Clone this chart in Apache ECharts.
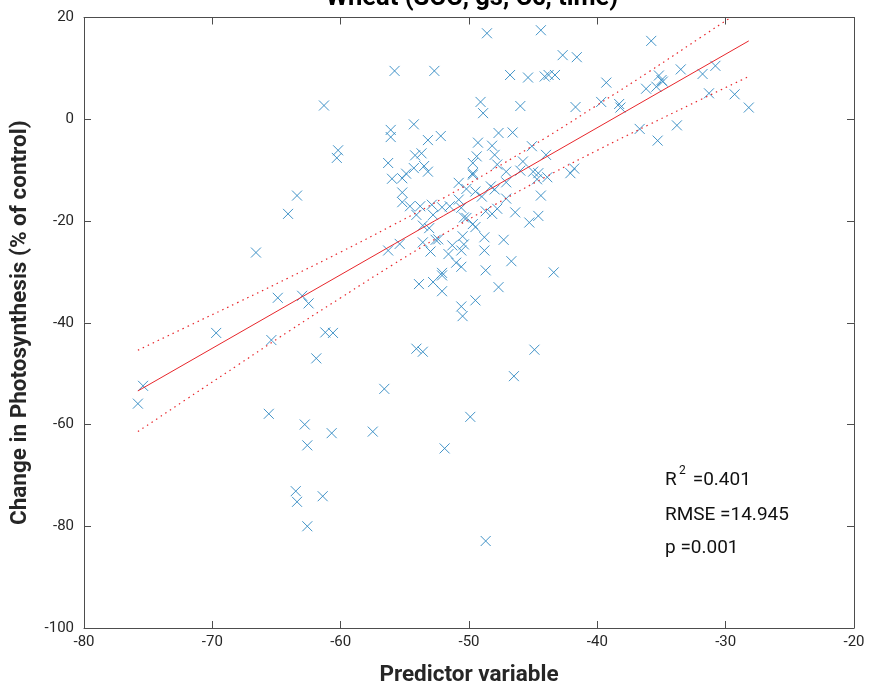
<!DOCTYPE html>
<html>
<head>
<meta charset="utf-8">
<script src="https://cdn.jsdelivr.net/npm/echarts@6/dist/echarts.min.js"></script>
<style>
html,body{margin:0;padding:0;background:#fff;}
#c{width:870px;height:692px;}
</style>
</head>
<body>
<div id="c"></div>
<script>
// ---- data ----
const xTicks = [-80, -70, -60, -50, -40, -30, -20];
const yTicks = [-100, -80, -60, -40, -20, 0, 20];

const pointsX = [
-75.8,-75.4,-69.7,-66.6,-65.4,-61.2,-60.6,-61.9,-65.6,-62.8,-60.7,-57.5,-62.6,-63.5,-63.4,-61.4,-62.6,
-55.8,-52.7,-61.3,-54.3,-56.1,-56.1,-53.2,-52.2,-60.2,-60.3,-56.3,-54.2,-53.7,-54.3,-53.5,-53.2,-56.0,-55.2,-54.9,
-50.8,-50.2,-63.4,-64.1,-55.2,-55.2,-54.6,-53.8,-52.9,-52.1,-51.5,-54.1,-52.8,-50.8,-50.6,-50.4,-50.2,-53.6,-53.1,
-56.3,-55.4,-53.6,-52.6,-52.4,-53.0,-51.3,-50.6,-51.6,-51.0,-50.6,-52.1,-52.1,-53.9,-52.8,-52.1,-64.9,-63.0,-62.5,
-50.6,-50.5,-50.5,-50.4,
-48.6,-44.4,-35.8,-42.7,-41.6,-46.8,-45.4,-44.1,-43.8,-43.3,-39.3,-49.1,-48.9,-46.0,-41.7,-39.7,-38.3,-38.2,-36.2,
-35.3,-36.7,-47.7,-46.6,-49.3,-48.2,-45.1,-49.4,-49.7,-48.0,-47.8,-49.7,-49.7,-45.8,-44.0,-47.1,-46.0,-45.0,-44.6,
-44.7,-43.9,-42.1,-41.8,-48.3,-48.0,-47.1,-49.5,-49.0,-47.1,-44.4,-48.7,-48.2,-47.8,-46.4,-45.3,-44.6,-49.7,-49.5,
-48.8,-48.8,-47.3,-46.7,-48.7,-43.4,-47.7,-49.5,
-33.5,-31.8,-30.8,-35.2,-35.0,-35.4,-34.9,-31.3,-29.3,-28.2,-33.8,
-54.1,-53.6,-44.9,-56.6,-46.5,-49.9,-51.9,-48.7
];
const pointsY = [
-55.9,-52.4,-42.0,-26.2,-43.4,-41.9,-42.0,-47.0,-57.9,-60.0,-61.7,-61.4,-64.1,-73.1,-75.2,-74.1,-80.0,
9.5,9.5,2.7,-1.0,-2.1,-3.5,-4.1,-3.3,-6.1,-7.6,-8.6,-7.1,-6.7,-9.6,-9.2,-10.3,-11.7,-11.6,-10.7,
-12.5,-13.7,-15.0,-18.6,-14.4,-16.3,-17.1,-17.1,-16.8,-17.3,-17.1,-18.8,-18.8,-15.8,-17.4,-19.3,-19.4,-20.9,-21.4,
-25.8,-24.5,-24.2,-23.7,-23.6,-26.0,-24.8,-25.8,-26.5,-28.2,-29.0,-30.2,-30.7,-32.4,-32.0,-33.8,-35.1,-34.7,-36.2,
-36.8,-38.7,-23.0,-24.6,
16.9,17.5,15.4,12.6,12.2,8.7,8.2,8.4,8.7,8.7,7.2,3.4,1.2,2.6,2.4,3.4,3.0,2.3,6.0,
-4.2,-1.9,-2.7,-2.6,-4.6,-5.2,-5.3,-7.3,-8.6,-7.0,-8.9,-10.6,-10.9,-8.3,-7.0,-10.3,-10.1,-10.3,-10.6,
-11.8,-11.4,-10.6,-9.7,-13.2,-13.8,-12.4,-14.2,-15.2,-15.6,-15.0,-18.1,-18.6,-17.6,-18.3,-20.3,-19.0,-20.6,-21.2,
-23.2,-25.8,-23.7,-27.9,-29.7,-30.1,-33.0,-35.6,
9.8,8.9,10.5,8.6,7.7,6.4,7.4,5.1,4.9,2.3,-1.2,
-45.1,-45.7,-45.3,-53.0,-50.5,-58.5,-64.7,-82.9
];

const fitX = [-75.8, -28.2];
const fitY = [-53.4, 15.4];

const bandX     = [-75.8, -72, -68, -64, -60, -56, -52, -48, -44, -40, -36, -32, -28.2];
const bandUpper = [-45.4, -40.8, -36.0, -31.1, -26.1, -20.9, -15.5, -9.7, -3.6, 2.8, 9.3, 16.0, 22.4];
const bandLower = [-61.4, -55.0, -48.3, -41.6, -35.1, -28.7, -22.6, -16.8, -11.3, -6.1, -1.1, 3.8, 8.4];

const titleText = 'Wheat (SCC, gs, Cc, time)';
const xName = 'Predictor variable';
const yName = 'Change in Photosynthesis (% of control)';
const statR2 = '0.401';
const statRMSE = '14.945';
const statP = '0.001';

// ---- build ----
const zip = (a, b) => a.map((v, i) => [v, b[i]]);
const axisColor = '#4d4d4d';
const labelColor = '#262626';
const font = 'Roboto, "Noto Sans", sans-serif';

function mkX(pos, show) {
  return {
    type: 'value', min: xTicks[0], max: xTicks[xTicks.length - 1], interval: 10, position: pos,
    axisLine: { show: true, onZero: false, lineStyle: { color: axisColor, width: 1 } },
    axisTick: { show: true, inside: true, length: 7, lineStyle: { color: axisColor } },
    axisLabel: { show: show, color: labelColor, fontSize: 15, fontFamily: font, margin: 7 },
    splitLine: { show: false },
    name: show ? xName : '', nameLocation: 'middle', nameGap: 36,
    nameTextStyle: { color: labelColor, fontSize: 22.5, fontWeight: 'bold', fontFamily: font }
  };
}
function mkY(pos, show) {
  return {
    type: 'value', min: yTicks[0], max: yTicks[yTicks.length - 1], interval: 20, position: pos,
    axisLine: { show: true, onZero: false, lineStyle: { color: axisColor, width: 1 } },
    axisTick: { show: true, inside: true, length: 7, lineStyle: { color: axisColor } },
    axisLabel: { show: show, color: labelColor, fontSize: 15, fontFamily: font, margin: 10 },
    splitLine: { show: false },
    name: show ? yName : '', nameLocation: 'middle', nameGap: 52, nameRotate: 90,
    nameTextStyle: { color: labelColor, fontSize: 22.5, fontWeight: 'bold', fontFamily: font }
  };
}

const chart = echarts.init(document.getElementById('c'), null, { renderer: 'canvas' });
const statStyle = { fill: '#111', fontSize: 19, fontFamily: font, verticalAlign: 'top' };
chart.setOption({
  backgroundColor: '#fff',
  animation: false,
  title: {
    text: titleText, left: 467, top: -19, textAlign: 'center',
    textStyle: { color: '#000', fontSize: 25.5, fontWeight: 'bold', fontFamily: font }
  },
  grid: { left: 84, right: 16, top: 17.5, bottom: 63, containLabel: false },
  xAxis: [mkX('bottom', true), mkX('top', false)],
  yAxis: [mkY('left', true), mkY('right', false)],
  series: [
    {
      type: 'scatter', data: zip(pointsX, pointsY),
      symbol: 'path://M0,0L10,10M10,0L0,10', symbolSize: 10,
      itemStyle: { color: 'rgba(0,0,0,0)', borderColor: '#2f88c2', borderWidth: 1, opacity: 0.9 },
      z: 3
    },
    {
      type: 'line', data: zip(fitX, fitY), showSymbol: false, symbol: 'none',
      lineStyle: { color: '#e8262b', width: 1 }, z: 4
    },
    {
      type: 'line', data: zip(bandX, bandUpper), showSymbol: false, symbol: 'none', smooth: true,
      lineStyle: { color: '#e8262b', width: 1.2, type: [1.5, 4] }, z: 4, clip: true
    },
    {
      type: 'line', data: zip(bandX, bandLower), showSymbol: false, symbol: 'none', smooth: true,
      lineStyle: { color: '#e8262b', width: 1.2, type: [1.5, 4] }, z: 4, clip: true
    }
  ],
  graphic: [
    { type: 'text', left: 665, top: 471, style: Object.assign({}, statStyle, { text: 'R' }) },
    { type: 'text', left: 679, top: 465, style: Object.assign({}, statStyle, { text: '2', fontSize: 12 }) },
    { type: 'text', left: 688, top: 471, style: Object.assign({}, statStyle, { text: ' =' + statR2 }) },
    { type: 'text', left: 665, top: 506, style: Object.assign({}, statStyle, { text: 'RMSE =' + statRMSE }) },
    { type: 'text', left: 665, top: 539, style: Object.assign({}, statStyle, { text: 'p =' + statP }) }
  ]
});
</script>
</body>
</html>
